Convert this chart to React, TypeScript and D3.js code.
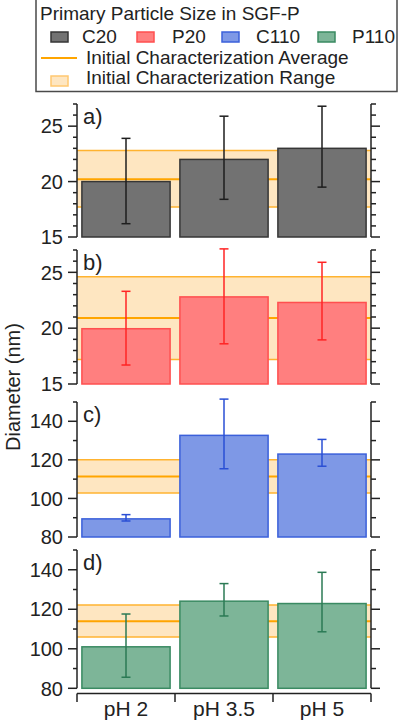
import React from "react";
import * as d3 from "d3";

// ---------- data ----------
const categories = ["pH 2", "pH 3.5", "pH 5"];
const seriesNames = ["C20", "P20", "C110", "P110"];
const panelLetters = ["a)", "b)", "c)", "d)"];

const c20Mean = [20.0, 22.0, 23.0];
const c20Low = [16.2, 18.4, 19.5];
const c20High = [23.9, 25.9, 26.8];

const p20Mean = [19.95, 22.8, 22.3];
const p20Low = [16.7, 18.6, 18.95];
const p20High = [23.3, 27.1, 25.9];

const c110Mean = [89.4, 132.7, 123.0];
const c110Low = [88.3, 115.4, 116.7];
const c110High = [91.6, 151.5, 130.6];

const p110Mean = [101.0, 124.1, 122.9];
const p110Low = [85.6, 116.6, 108.6];
const p110High = [117.6, 133.0, 138.7];

// initial characterization: [low, average, high]
const c20Init = [17.7, 20.2, 22.8];
const p20Init = [17.2, 20.9, 24.6];
const c110Init = [102.8, 111.4, 120.0];
const p110Init = [106.0, 114.0, 122.2];

const smallDomain = [15, 27];
const largeDomain = [80, 150];
const smallTicks = d3.range(15, 27.001, 1);
const largeTicks = d3.range(80, 150.001, 10);

const yTitle = "Diameter (nm)";
const legendTitle = "Primary Particle Size in SGF-P";
const avgLabel = "Initial Characterization Average";
const rangeLabel = "Initial Characterization Range";

// ---------- styles ----------
const FONT = "'Liberation Sans', Arial, sans-serif";
const fills = ["#727272", "#ff7f7f", "#7e98e6", "#7db598"];
const strokes = ["#363636", "#ff4f4f", "#3b60da", "#3a8a62"];
const errColors = ["#1e1e1e", "#ff2424", "#2a4fd4", "#2b7a55"];
const bandFill = "#fee6c1";
const bandLine = "#ffb330";
const avgLine = "#ffa500";

const panels = [
  { mean: c20Mean, low: c20Low, high: c20High, init: c20Init, domain: smallDomain, ticks: smallTicks, major: 5 },
  { mean: p20Mean, low: p20Low, high: p20High, init: p20Init, domain: smallDomain, ticks: smallTicks, major: 5 },
  { mean: c110Mean, low: c110Low, high: c110High, init: c110Init, domain: largeDomain, ticks: largeTicks, major: 20 },
  { mean: p110Mean, low: p110Low, high: p110High, init: p110Init, domain: largeDomain, ticks: largeTicks, major: 20 },
];

const panelTops = [104, 250, 402, 550];
const panelBottoms = [237, 384, 537, 688.3];
const xLeft = 77;
const xRight = 371;

export default function App() {
  const x = d3
    .scaleBand<string>()
    .domain(categories)
    .range([xLeft, xRight])
    .paddingInner(0.1)
    .paddingOuter(0.05);
  const boundaries = d3.range(categories.length + 1).map((i) => xLeft + (i * (xRight - xLeft)) / categories.length);
  const xAxisY = 693.5;

  const legendX = [51, 137, 222, 318];
  const legendTextX = [82, 172, 256, 352];

  return (
    <svg
      width={400}
      height={723}
      style={{ position: "absolute", left: 0, top: 0, background: "#fff" }}
      fontFamily={FONT}
    >
      {/* legend */}
      <g>
        <rect x={36} y={-1} width={361} height={92.5} fill="#fff" stroke="#4a4a4a" strokeWidth={1.5} />
        <text x={40} y={19.5} fontSize={19} fill="#222">{legendTitle}</text>
        {seriesNames.map((s, i) => (
          <g key={s}>
            <rect x={legendX[i]} y={32} width={17} height={10} fill={fills[i]} stroke={strokes[i]} strokeWidth={1.5} />
            <text x={legendTextX[i]} y={43} fontSize={19} fill="#222">{s}</text>
          </g>
        ))}
        <line x1={41} x2={77} y1={58} y2={58} stroke={avgLine} strokeWidth={2} />
        <text x={86} y={63.5} fontSize={19} fill="#222">{avgLabel}</text>
        <rect x={51} y={76} width={17} height={10} fill={bandFill} stroke="#ffc870" strokeWidth={1.5} />
        <text x={86} y={83.5} fontSize={19} fill="#222">{rangeLabel}</text>
      </g>

      {/* y title */}
      <text
        transform={`translate(20,387) rotate(-90)`}
        textAnchor="middle"
        fontSize={20}
        fill="#222"
      >
        {yTitle}
      </text>

      {panels.map((p, pi) => {
        const y = d3.scaleLinear().domain(p.domain).range([panelBottoms[pi], panelTops[pi]]);
        const bottom = panelBottoms[pi];
        return (
          <g key={pi}>
            {/* band */}
            <rect
              x={xLeft}
              y={y(p.init[2])}
              width={xRight - xLeft}
              height={y(p.init[0]) - y(p.init[2])}
              fill={bandFill}
            />
            <line x1={xLeft} x2={xRight} y1={y(p.init[2])} y2={y(p.init[2])} stroke={bandLine} strokeWidth={1.5} />
            <line x1={xLeft} x2={xRight} y1={y(p.init[0])} y2={y(p.init[0])} stroke={bandLine} strokeWidth={1.5} />
            <line x1={xLeft} x2={xRight} y1={y(p.init[1])} y2={y(p.init[1])} stroke={avgLine} strokeWidth={2} />
            {/* bars */}
            {categories.map((c, i) => (
              <rect
                key={c}
                x={x(c)!}
                y={y(p.mean[i])}
                width={x.bandwidth()}
                height={bottom - y(p.mean[i])}
                fill={fills[pi]}
                stroke={strokes[pi]}
                strokeWidth={1.5}
              />
            ))}
            {/* error bars */}
            {categories.map((c, i) => {
              const cx = x(c)! + x.bandwidth() / 2;
              return (
                <g key={c} stroke={errColors[pi]} strokeWidth={1.5}>
                  <line x1={cx} x2={cx} y1={y(p.low[i])} y2={y(p.high[i])} />
                  <line x1={cx - 4.5} x2={cx + 4.5} y1={y(p.low[i])} y2={y(p.low[i])} />
                  <line x1={cx - 4.5} x2={cx + 4.5} y1={y(p.high[i])} y2={y(p.high[i])} />
                </g>
              );
            })}
            {/* left axis */}
            <line x1={xLeft} x2={xLeft} y1={panelTops[pi]} y2={bottom} stroke="#222" strokeWidth={1.5} />
            {p.ticks.map((t) => {
              const isMajor = Math.abs(t % p.major) < 1e-6;
              return (
                <g key={t}>
                  <line x1={xLeft} x2={xLeft - (isMajor ? 9 : 4)} y1={y(t)} y2={y(t)} stroke="#222" strokeWidth={1.5} />
                  {isMajor && (
                    <text x={63} y={y(t)} dy="0.36em" textAnchor="end" fontSize={20} fill="#222">
                      {t}
                    </text>
                  )}
                </g>
              );
            })}
            {/* right axis */}
            <line x1={xRight} x2={xRight} y1={panelTops[pi]} y2={bottom} stroke="#222" strokeWidth={1.5} />
            {p.ticks.map((t) => {
              const isMajor = Math.abs(t % p.major) < 1e-6;
              return (
                <line
                  key={t}
                  x1={xRight}
                  x2={xRight + (isMajor ? 9 : 5)}
                  y1={y(t)}
                  y2={y(t)}
                  stroke="#222"
                  strokeWidth={1.5}
                />
              );
            })}
            <text x={83} y={panelTops[pi] + 20} fontSize={22} fill="#222">
              {panelLetters[pi]}
            </text>
          </g>
        );
      })}

      {/* x axis */}
      <g>
        <line x1={xLeft} x2={xRight} y1={xAxisY} y2={xAxisY} stroke="#222" strokeWidth={1.5} />
        {boundaries.map((b, i) => (
          <line key={i} x1={b} x2={b} y1={xAxisY} y2={xAxisY + 8.5} stroke="#222" strokeWidth={1.5} />
        ))}
        {categories.map((c) => (
          <text
            key={c}
            x={x(c)! + x.bandwidth() / 2}
            y={716}
            textAnchor="middle"
            fontSize={21}
            fill="#222"
          >
            {c}
          </text>
        ))}
      </g>
    </svg>
  );
}
